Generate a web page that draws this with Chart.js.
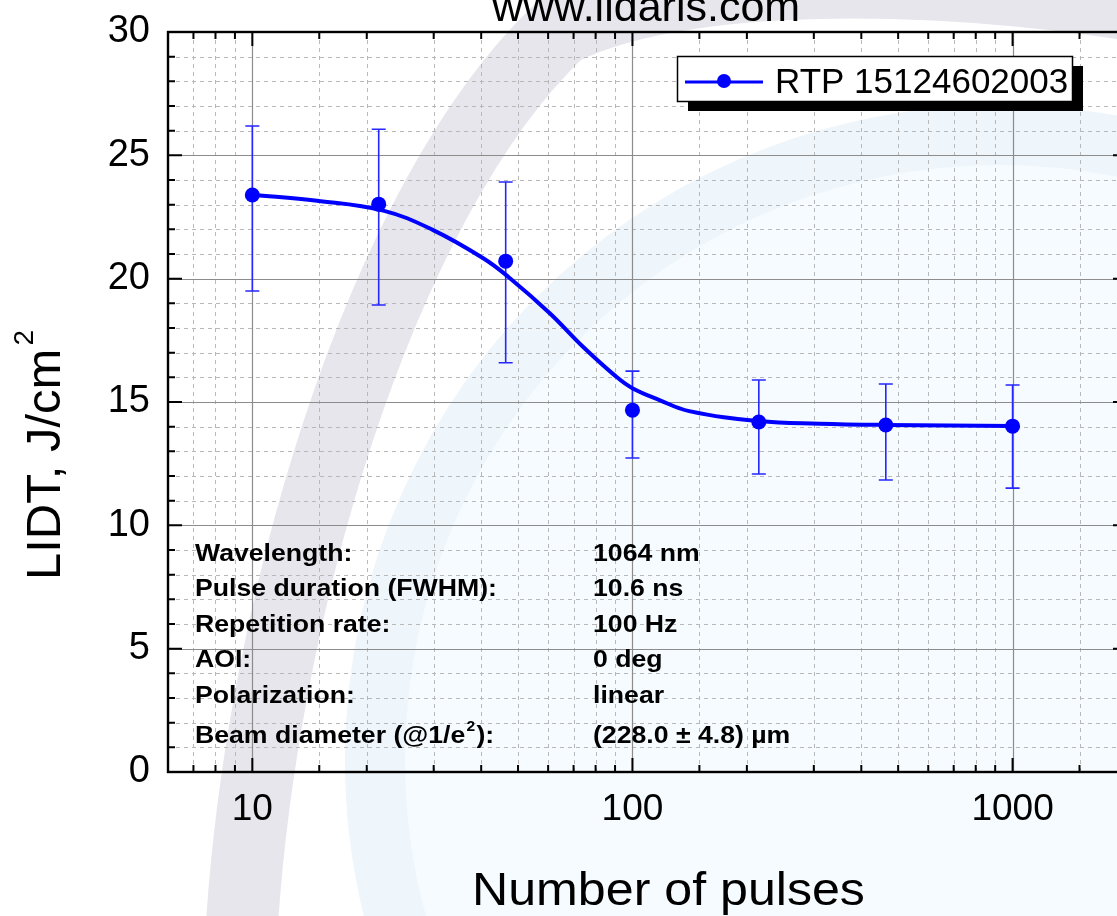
<!DOCTYPE html>
<html><head><meta charset="utf-8">
<script src="https://cdn.jsdelivr.net/npm/chart.js@4.4.0/dist/chart.umd.min.js"></script>
<style>
html,body{margin:0;padding:0;overflow:hidden;background:#fff;width:1117px;height:916px}
canvas{display:block}
</style>
</head><body>
<canvas id="c" width="1143" height="916" style="width:1143px;height:916px"></canvas>
<script>
// ---- data ----
const pulses     = [10, 21.5, 46.4, 100, 215, 464, 1000];
const lidt       = [23.39, 23.02, 20.71, 14.67, 14.19, 14.07, 14.02];
const errUpper   = [26.19, 26.06, 23.92, 16.25, 15.89, 15.73, 15.69];
const errLower   = [19.50, 18.93, 16.59, 12.73, 12.08, 11.84, 11.51];
const fitPulses  = [10, 14.8, 22.1, 29.9, 40.5, 47.1, 60.6, 74.1, 90.6, 100, 117.8, 141, 215, 310, 464, 1000];
const fitLidt    = [23.40, 23.16, 22.76, 21.97, 20.83, 20.08, 18.60, 17.24, 16.03, 15.56, 15.08, 14.63, 14.23, 14.12, 14.07, 14.03];
const xTickLabels = [10, 100, 1000];
const yTickLabels = [0, 5, 10, 15, 20, 25, 30];
const seriesName = 'RTP 15124602003';
const chartTitle = 'www.lidaris.com';
const xTitle = 'Number of pulses';
const yTitle = 'LIDT, J/cm';
const infoLabels = ['Wavelength:', 'Pulse duration (FWHM):', 'Repetition rate:', 'AOI:', 'Polarization:', 'Beam diameter (@1/e'];
const infoValues = ['1064 nm', '10.6 ns', '100 Hz', '0 deg', 'linear', '(228.0 \u00b1 4.8) \u00b5m'];

const BLUE = '#0000ff';
const FONT = "'Liberation Sans', Arial, sans-serif";

const watermark = {
  id: 'watermark',
  beforeDraw(chart) {
    const ctx = chart.ctx;
    ctx.save();
    ctx.fillStyle = '#ffffff';
    ctx.fillRect(0, 0, chart.width, chart.height);
    ctx.fillStyle = '#f5fbfe';
    ctx.beginPath(); ctx.arc(1000, 760, 625, 0, Math.PI * 2); ctx.fill();
    ctx.strokeStyle = '#eef5fb'; ctx.lineWidth = 60;
    ctx.beginPath(); ctx.arc(1000, 760, 625, Math.PI * 0.9, Math.PI * 1.9); ctx.stroke();
    ctx.strokeStyle = '#e6e6ec'; ctx.lineWidth = 72; ctx.lineCap = 'butt';
    ctx.beginPath();
    ctx.moveTo(240, 960);
    ctx.bezierCurveTo(255, 620, 380, 200, 560, 30);
    ctx.bezierCurveTo(700, -40, 1000, -20, 1160, 10);
    ctx.stroke();
    ctx.restore();
  }
};

function isDecade(v) { const l = Math.log10(v); return Math.abs(l - Math.round(l)) < 1e-6; }

const gridAxes = {
  id: 'gridAxes',
  beforeDatasetsDraw(chart) {
    const {ctx, chartArea: a, scales: {x, y}} = chart;
    ctx.save();
    ctx.beginPath(); ctx.rect(a.left, a.top, a.right - a.left, a.bottom - a.top); ctx.clip();
    ctx.strokeStyle = '#b8b8b8'; ctx.lineWidth = 1; ctx.setLineDash([4, 4]);
    y.ticks.forEach(t => {
      if (t.value % 5 !== 0) { const p = Math.round(y.getPixelForValue(t.value)) + 0.5;
        ctx.beginPath(); ctx.moveTo(a.left, p); ctx.lineTo(a.right, p); ctx.stroke(); }
    });
    x.ticks.forEach(t => {
      if (!isDecade(t.value)) { const p = Math.round(x.getPixelForValue(t.value)) + 0.5;
        ctx.beginPath(); ctx.moveTo(p, a.top); ctx.lineTo(p, a.bottom); ctx.stroke(); }
    });
    ctx.setLineDash([]); ctx.strokeStyle = '#8c8c8c'; ctx.lineWidth = 1.2;
    y.ticks.forEach(t => {
      if (t.value % 5 === 0) { const p = Math.round(y.getPixelForValue(t.value)) + 0.5;
        ctx.beginPath(); ctx.moveTo(a.left, p); ctx.lineTo(a.right, p); ctx.stroke(); }
    });
    x.ticks.forEach(t => {
      if (isDecade(t.value)) { const p = Math.round(x.getPixelForValue(t.value)) + 0.5;
        ctx.beginPath(); ctx.moveTo(p, a.top); ctx.lineTo(p, a.bottom); ctx.stroke(); }
    });
    ctx.restore();

    ctx.save();
    ctx.strokeStyle = '#2626ff'; ctx.lineWidth = 1.6;
    pulses.forEach((px, i) => {
      const xp = x.getPixelForValue(px);
      const yt = y.getPixelForValue(errUpper[i]);
      const yb = y.getPixelForValue(errLower[i]);
      ctx.beginPath();
      ctx.moveTo(xp, yt); ctx.lineTo(xp, yb);
      ctx.moveTo(xp - 7, yt); ctx.lineTo(xp + 7, yt);
      ctx.moveTo(xp - 7, yb); ctx.lineTo(xp + 7, yb);
      ctx.stroke();
    });
    ctx.restore();
  },
  afterDatasetsDraw(chart) {
    const {ctx, chartArea: a, scales: {x, y}} = chart;
    ctx.save();
    ctx.strokeStyle = '#000'; ctx.lineWidth = 2;
    y.ticks.forEach(t => {
      const p = y.getPixelForValue(t.value);
      const len = t.value % 5 === 0 ? 14 : 7;
      ctx.beginPath();
      ctx.moveTo(a.left, p); ctx.lineTo(a.left + len, p);
      ctx.moveTo(a.right, p); ctx.lineTo(a.right - len, p);
      ctx.stroke();
    });
    x.ticks.forEach(t => {
      const p = x.getPixelForValue(t.value);
      const len = isDecade(t.value) ? 14 : 7;
      ctx.beginPath();
      ctx.moveTo(p, a.bottom); ctx.lineTo(p, a.bottom - len);
      ctx.moveTo(p, a.top); ctx.lineTo(p, a.top + len);
      ctx.stroke();
    });
    ctx.lineWidth = 2.4;
    ctx.strokeRect(a.left, a.top, a.right - a.left, a.bottom - a.top);
    ctx.restore();
  },
  afterDraw(chart) {
    const ctx = chart.ctx;
    ctx.save();
    ctx.fillStyle = '#000';
    ctx.font = '43px ' + FONT; ctx.textAlign = 'center'; ctx.textBaseline = 'alphabetic';
    ctx.fillText(chartTitle, 646, 21);
    ctx.save();
    ctx.translate(472, 905); ctx.scale(1.09, 1);
    ctx.font = '46px ' + FONT; ctx.textAlign = 'left';
    ctx.fillText(xTitle, 0, 0);
    ctx.restore();
    ctx.save();
    ctx.translate(60, 580); ctx.rotate(-Math.PI / 2);
    ctx.font = '49px ' + FONT; ctx.textAlign = 'left';
    ctx.fillText(yTitle, 0, 0);
    const w = ctx.measureText(yTitle).width;
    ctx.font = '28px ' + FONT;
    ctx.fillText('2', w + 3, -27);
    ctx.restore();
    const rows = [561, 596, 632, 667, 703, 743];
    ctx.textAlign = 'left';
    infoLabels.forEach((lab, i) => {
      ctx.save(); ctx.translate(195, rows[i]); ctx.scale(1.11, 1);
      ctx.font = 'bold 24px ' + FONT;
      ctx.fillText(lab, 0, 0);
      if (i === infoLabels.length - 1) {
        const lw = ctx.measureText(lab).width;
        ctx.font = 'bold 14px ' + FONT;
        ctx.fillText('2', lw + 1, -12);
        ctx.font = 'bold 24px ' + FONT;
        ctx.fillText('):', lw + 10, 0);
      }
      ctx.restore();
      ctx.save(); ctx.translate(593, rows[i]); ctx.scale(1.11, 1);
      ctx.font = 'bold 24px ' + FONT;
      ctx.fillText(infoValues[i], 0, 0);
      ctx.restore();
    });
    ctx.fillStyle = '#000';
    ctx.fillRect(688, 66, 395, 45);
    ctx.fillStyle = '#fff';
    ctx.fillRect(677, 56, 395, 45);
    ctx.strokeStyle = '#000'; ctx.lineWidth = 1.5;
    ctx.strokeRect(677.5, 56.5, 395, 45);
    ctx.strokeStyle = BLUE; ctx.lineWidth = 3;
    ctx.beginPath(); ctx.moveTo(685, 82); ctx.lineTo(763, 82); ctx.stroke();
    ctx.fillStyle = BLUE;
    ctx.beginPath(); ctx.arc(724, 81, 7, 0, Math.PI * 2); ctx.fill();
    ctx.fillStyle = '#000';
    ctx.font = '35px ' + FONT; ctx.textAlign = 'left';
    ctx.fillText(seriesName, 775, 93);
    ctx.restore();
  }
};

new Chart(document.getElementById('c'), {
  type: 'scatter',
  data: {
    datasets: [
      {
        label: 'fit',
        data: fitPulses.map((v, i) => ({x: v, y: fitLidt[i]})),
        showLine: true,
        borderColor: BLUE,
        borderWidth: 4,
        pointRadius: 0,
        tension: 0.4,
        fill: false
      },
      {
        label: seriesName,
        data: pulses.map((v, i) => ({x: v, y: lidt[i]})),
        showLine: false,
        pointRadius: 7.5,
        pointBackgroundColor: BLUE,
        pointBorderColor: BLUE,
        pointBorderWidth: 0
      }
    ]
  },
  options: {
    responsive: false,
    animation: false,
    devicePixelRatio: 1,
    layout: {padding: {top: 32, right: 0, left: 0, bottom: 0}},
    plugins: {legend: {display: false}, tooltip: {enabled: false}, title: {display: false}},
    scales: {
      x: {
        type: 'logarithmic',
        min: 6, max: 2000,
        grid: {display: false, drawTicks: false},
        border: {display: false},
        afterFit(s) { s.height = 144; },
        ticks: {
          autoSkip: false, maxRotation: 0, padding: 16,
          color: '#000',
          font: {family: FONT, size: 37},
          callback: v => xTickLabels.some(t => Math.abs(t - v) < 1e-6) ? String(Math.round(v)) : ''
        }
      },
      y: {
        type: 'linear',
        min: 0, max: 30,
        grid: {display: false, drawTicks: false},
        border: {display: false},
        afterFit(s) { s.width = 168; },
        ticks: {
          stepSize: 1, autoSkip: false, padding: 18,
          color: '#000',
          font: {family: FONT, size: 38, lineHeight: 0.3},
          callback: v => yTickLabels.includes(v) ? String(v) : ''
        }
      }
    }
  },
  plugins: [watermark, gridAxes]
});
</script>
</body></html>
